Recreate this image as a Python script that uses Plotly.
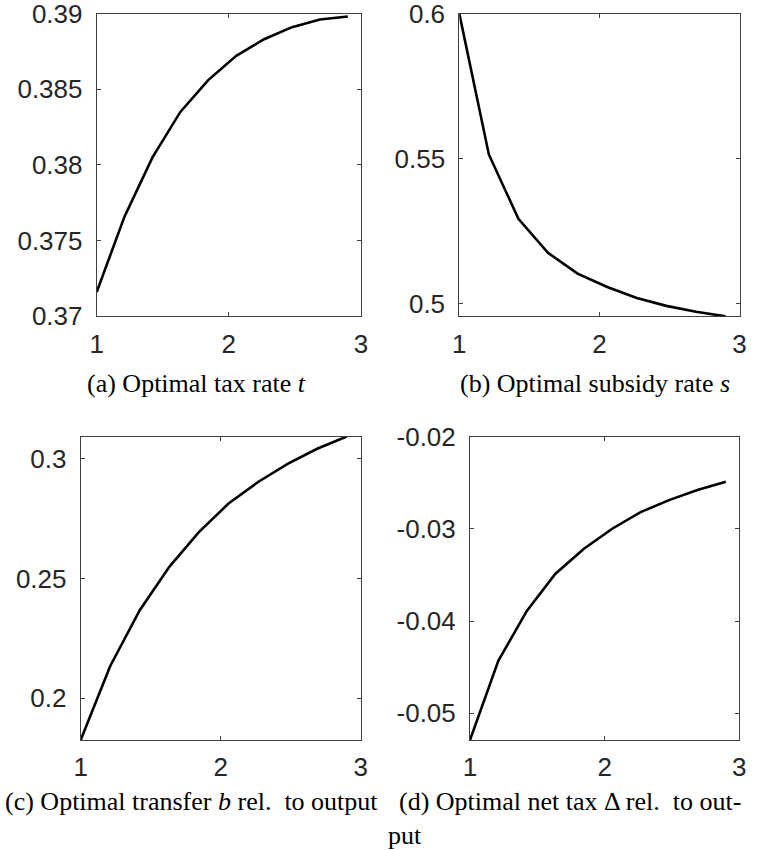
import plotly.graph_objects as go

W, H = 766, 850

x_vals = [1.0, 1.211, 1.422, 1.633, 1.844, 2.056, 2.267, 2.478, 2.689, 2.9]
tax_rate = [0.3716, 0.3766, 0.3805, 0.3835, 0.3856, 0.3872, 0.3883, 0.3891, 0.3896, 0.3898]
subsidy_rate = [0.6, 0.5514, 0.5292, 0.5175, 0.5103, 0.5057, 0.5019, 0.4992, 0.4972, 0.4956]
transfer_rel = [0.1826, 0.2135, 0.2368, 0.2549, 0.2694, 0.2813, 0.2903, 0.2979, 0.3042, 0.3093]
net_tax_rel = [-0.0529, -0.0443, -0.0389, -0.0349, -0.0322, -0.0300, -0.0282, -0.0269, -0.0258, -0.0249]

x_ticks = [1, 2, 3]
yticks_a = [0.37, 0.375, 0.38, 0.385, 0.39]
yticks_b = [0.5, 0.55, 0.6]
yticks_c = [0.2, 0.25, 0.3]
yticks_d = [-0.05, -0.04, -0.03, -0.02]

captions = [
    "(a) Optimal tax rate <i>t</i>",
    "(b) Optimal subsidy rate <i>s</i>",
    "(c) Optimal transfer <i>b</i> rel.  to output",
    "(d) Optimal net tax Δ rel.  to out-",
    "put",
]

# panel boxes in pixels: (left, top, right, bottom)
boxes = [
    (96.7, 13.5, 361.0, 316.3),
    (459.3, 13.5, 739.5, 316.3),
    (80.7, 436.5, 360.7, 740.0),
    (470.0, 436.5, 739.3, 740.0),
]
yranges = [
    (0.37, 0.39),
    (0.4956, 0.6),
    (0.1826, 0.3093),
    (-0.0529, -0.02),
]
yticklists = [yticks_a, yticks_b, yticks_c, yticks_d]
ylabels = [
    ["0.37", "0.375", "0.38", "0.385", "0.39"],
    ["0.5", "0.55", "0.6"],
    ["0.2", "0.25", "0.3"],
    ["-0.05", "-0.04", "-0.03", "-0.02"],
]
series = [tax_rate, subsidy_rate, transfer_rel, net_tax_rel]

fig = go.Figure()
axcol = "#404040"
tickfont = dict(family="Liberation Sans, Arial, sans-serif", size=26, color="#262626")

for i in range(4):
    n = "" if i == 0 else str(i + 1)
    l, t, r, b = boxes[i]
    fig.add_trace(go.Scatter(x=x_vals, y=series[i], mode="lines",
                             line=dict(color="black", width=2.6),
                             xaxis="x" + n, yaxis="y" + n, showlegend=False))
    fig.layout["xaxis" + n] = dict(
        domain=[l / W, r / W], anchor="y" + n, range=[1, 3],
        tickvals=x_ticks, ticktext=[str(v) for v in x_ticks],
        showline=True, mirror="ticks", linecolor=axcol, linewidth=1,
        ticks="inside", ticklen=4, tickcolor=axcol, tickwidth=1,
        showgrid=False, zeroline=False, tickfont=tickfont,
        automargin=False, ticklabelstandoff=4, ticklabeloverflow="allow",
    )
    fig.layout["yaxis" + n] = dict(
        domain=[1 - b / H, 1 - t / H], anchor="x" + n, range=list(yranges[i]),
        tickvals=yticklists[i], ticktext=ylabels[i],
        showline=True, mirror="ticks", linecolor=axcol, linewidth=1,
        ticks="inside", ticklen=4, tickcolor=axcol, tickwidth=1,
        showgrid=False, zeroline=False, tickfont=tickfont,
        automargin=False, ticklabelstandoff=8, ticklabeloverflow="allow",
    )

capfont = dict(family="Liberation Serif, Times New Roman, serif", size=26, color="black")
cap_pos = [(196.5, 383, "center"), (595, 383, "center"), (192, 801, "center"),
           (570, 801, "center"), (386, 835, "left")]
for txt, (cx, cy, al) in zip(captions, cap_pos):
    fig.add_annotation(text=txt, x=cx / W, y=1 - cy / H, xref="paper", yref="paper",
                       xanchor=al, yanchor="middle", showarrow=False, font=capfont)

fig.update_layout(width=W, height=H, margin=dict(l=0, r=0, t=0, b=0),
                  plot_bgcolor="white", paper_bgcolor="white")
fig.write_html("out.html", config={"displayModeBar": False},
               post_script="document.body.style.margin='0';document.body.style.overflow='hidden';")
